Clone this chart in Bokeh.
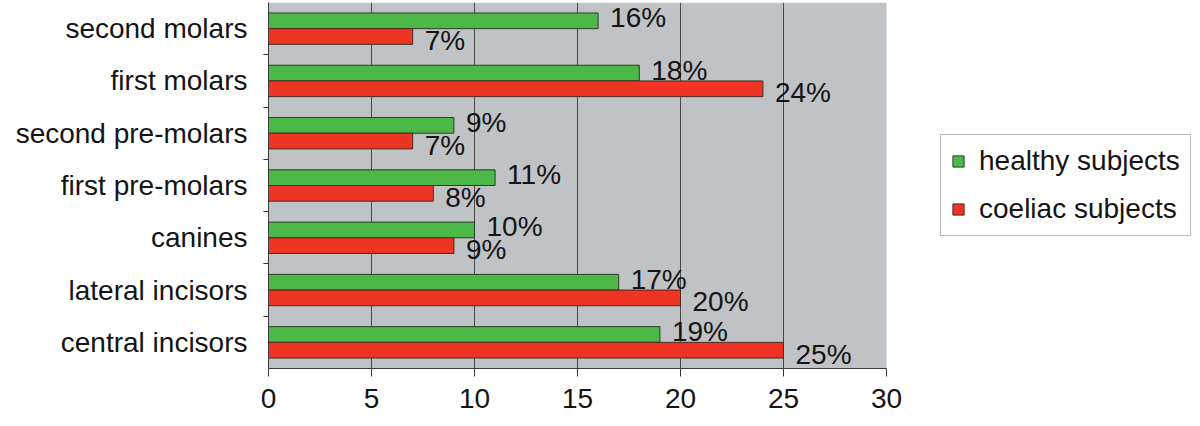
from bokeh.plotting import figure
from bokeh.models import (FactorRange, Range1d, CategoricalAxis, FixedTicker,
                          Legend, LegendItem, ColumnDataSource, BoxAnnotation)
from bokeh.transform import dodge
from bokeh.core.properties import value
from bokeh.embed import file_html
from bokeh.resources import INLINE

# ---- data (bottom to top) ----
categories = ["central incisors", "lateral incisors", "canines", "first pre-molars",
              "second pre-molars", "first molars", "second molars"]
healthy = [19, 17, 10, 11, 9, 18, 16]
coeliac = [25, 20, 9, 8, 7, 24, 7]
x_ticks = [0, 5, 10, 15, 20, 25, 30]
series_names = ["healthy subjects", "coeliac subjects"]

FONT = "Liberation Sans"
GREEN = "#4cb848"
RED = "#ee3524"
BG = "#c0c3c6"
DARK = "#3a3a3a"
TXT = "#141414"

PLOT_W = 618      # pixel width of the 0..30 data area
FRAME_W = 924     # frame also hosts the legend area on the right

src = ColumnDataSource(dict(
    cat=categories, healthy=healthy, coeliac=coeliac,
    hl=[f"{v}%" for v in healthy], cl=[f"{v}%" for v in coeliac]))

x_end = x_ticks[-1] * FRAME_W / PLOT_W
p = figure(frame_width=FRAME_W, frame_height=366,
           y_range=FactorRange(factors=categories), x_range=Range1d(x_ticks[0], x_end),
           output_backend="svg", toolbar_location=None, y_axis_location=None,
           min_border_left=268, min_border_right=0, min_border_top=2, min_border_bottom=0)
p.background_fill_color = "white"
p.border_fill_color = "white"
p.outline_line_color = None

# grey plot area 0..30
p.add_layout(BoxAnnotation(left=x_ticks[0], right=x_ticks[-1], fill_color=BG, fill_alpha=1.0,
                           line_color=None, level="image"))

# x axis
xa = p.xaxis[0]
xa.ticker = FixedTicker(ticks=x_ticks)
xa.bounds = (x_ticks[0], x_ticks[-1])
xa.major_tick_out = 8
xa.major_tick_in = 0
xa.minor_tick_out = 0
xa.minor_tick_in = 0
xa.axis_line_color = DARK
xa.major_tick_line_color = DARK
xa.major_label_text_font = FONT
xa.major_label_text_font_size = "28px"
xa.major_label_text_color = TXT
xa.major_label_standoff = 12

p.xgrid.ticker = FixedTicker(ticks=x_ticks[1:-1])
p.xgrid.grid_line_color = "#4a4a4a"
p.xgrid.grid_line_width = 1
p.ygrid.grid_line_color = None

# y axis: separator ticks at category boundaries (inner) + category labels (outer)
boundaries = [f"b{i}" for i in range(len(categories) + 1)]
p.extra_y_ranges = {"sep": FactorRange(factors=boundaries, range_padding=-0.5,
                                       range_padding_units="absolute")}
sep_axis = CategoricalAxis(y_range_name="sep",
                           major_tick_out=5, major_tick_in=0,
                           major_label_text_font_size="1px", major_label_standoff=0,
                           major_label_overrides={b: "" for b in boundaries},
                           axis_line_color=DARK, major_tick_line_color=DARK)
p.add_layout(sep_axis, "left")
cat_axis = CategoricalAxis(axis_line_color=None, major_tick_line_color=None,
                           major_tick_out=0, major_tick_in=0,
                           major_label_text_font=FONT, major_label_text_font_size="28px",
                           major_label_text_color=TXT, major_label_standoff=12)
p.add_layout(cat_axis, "left")

# bars
r_h = p.hbar(y=dodge("cat", 0.15, range=p.y_range), left=0, right="healthy", height=0.3,
             source=src, fill_color=GREEN, line_color="#2e3a2a", line_width=1)
r_c = p.hbar(y=dodge("cat", -0.15, range=p.y_range), left=0, right="coeliac", height=0.3,
             source=src, fill_color=RED, line_color="#4a2a22", line_width=1)

# value labels
p.text(x="healthy", y=dodge("cat", 0.15, range=p.y_range), text="hl", source=src,
       x_offset=12, y_offset=-3, text_font=value(FONT), text_font_size="28px",
       text_color=TXT, text_align="left", text_baseline="middle")
p.text(x="coeliac", y=dodge("cat", -0.15, range=p.y_range), text="cl", source=src,
       x_offset=12, y_offset=4, text_font=value(FONT), text_font_size="28px",
       text_color=TXT, text_align="left", text_baseline="middle")

legend = Legend(items=[LegendItem(label=series_names[0], renderers=[r_h]),
                       LegendItem(label=series_names[1], renderers=[r_c])],
                location=(672, 132), margin=0, padding=10, spacing=16,
                glyph_width=14, glyph_height=14, label_standoff=14, label_height=32,
                label_text_font=FONT, label_text_font_size="28px", label_text_color=TXT,
                border_line_color="#7a7a7a", border_line_width=1,
                background_fill_color="white", background_fill_alpha=1.0)
p.add_layout(legend, "center")

open("out.html", "w").write(file_html(p, INLINE))
